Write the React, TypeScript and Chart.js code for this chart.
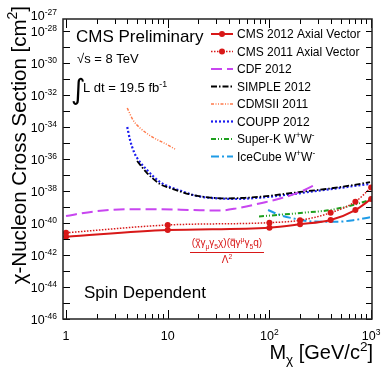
import { useEffect, useRef } from 'react';
import { Chart, registerables } from 'chart.js';

Chart.register(...registerables);

const FONT = '"Liberation Sans", Arial, Helvetica, sans-serif';

// ---- data (mass in GeV/c^2, cross section in cm^2) ----
const cms2012Mass = [1, 10, 100, 200, 400, 700, 1000];
const cms2012Sigma = [1.38e-41, 3.63e-41, 5.13e-41, 8.32e-41, 1.55e-40, 6.46e-40, 3.16e-39];

const cms2011Mass = [1, 10, 100, 200, 400, 700, 1000];
const cms2011Sigma = [2.46e-41, 7.5e-41, 1.05e-40, 1.48e-40, 4.37e-40, 2.14e-39, 1.66e-38];

const cdfMass = [1, 1.84, 4, 8.4, 17.7, 32.7, 48, 86.5, 127, 200, 294];
const cdfSigma = [2.75e-40, 5.13e-40, 7.24e-40, 7.24e-40, 6.46e-40, 6.03e-40, 8.32e-40, 1.86e-39, 3.39e-39, 8.71e-39, 2.75e-38];

const simpleMass = [5, 6.26, 8.4, 10.5, 13.2, 17.7, 26, 38.3, 57.5, 80.8, 127, 200, 360, 620, 975];
const simpleSigma = [7.5e-37, 1.33e-37, 2.74e-38, 1.54e-38, 9.33e-39, 5.62e-39, 3.89e-39, 3.47e-39, 3.76e-39, 4.37e-39, 6.03e-39, 8.71e-39, 1.33e-38, 2.19e-38, 3.63e-38];

const cdmsMass = [4, 4.56, 5.34, 6.26, 7.5, 9.4, 11.8];
const cdmsSigma = [1.55e-33, 2.75e-34, 8.71e-35, 3.89e-35, 1.91e-35, 9.33e-36, 4.22e-36];

const couppMass = [4, 4.26, 4.66, 5, 6.26, 8.4, 10.5, 13.2, 17.7, 22.2, 32.7, 48, 72, 101, 214, 462, 975];
const couppSigma = [1e-34, 1.55e-35, 2.74e-36, 1.15e-36, 2.04e-37, 3.63e-38, 1.78e-38, 1.07e-38, 5.62e-39, 4.22e-39, 3.39e-39, 3.16e-39, 3.63e-39, 4.37e-39, 7.76e-39, 1.48e-38, 2.75e-38];

const superkMass = [79, 119, 214, 394, 664, 975];
const superkSigma = [2.57e-40, 3.16e-40, 4.37e-40, 6.46e-40, 1.33e-39, 2.74e-39];

const icecubeMass = [97, 127, 171, 268, 462, 695, 975];
const icecubeSigma = [6.46e-40, 3.16e-40, 1.95e-40, 1.23e-40, 1.2e-40, 1.55e-40, 2.29e-40];

const xTickValues = [1, 10, 100, 1000];
const xTickExponents = ['', '', '2', '3'];
const xTickBases = ['1', '10', '10', '10'];
const yLabelExponents = [-27, -28, -30, -32, -34, -36, -38, -40, -42, -44, -46];

const RED = '#d81818';

type Seg = { t: string; s?: 'sup' | 'sub'; bar?: boolean };

function drawRich(ctx: CanvasRenderingContext2D, segs: Seg[], x: number, y: number, size: number, align: 'left' | 'center' | 'right', color: string, smallRatio = 0.68) {
  const small = size * smallRatio;
  const widths = segs.map((s) => {
    ctx.font = `${s.s ? small : size}px ${FONT}`;
    return ctx.measureText(s.t).width;
  });
  const total = widths.reduce((a, b) => a + b, 0);
  let cx = align === 'left' ? x : align === 'center' ? x - total / 2 : x - total;
  ctx.fillStyle = color;
  ctx.strokeStyle = color;
  ctx.textAlign = 'left';
  ctx.textBaseline = 'alphabetic';
  segs.forEach((s, i) => {
    ctx.font = `${s.s ? small : size}px ${FONT}`;
    const dy = s.s === 'sup' ? -size * 0.42 : s.s === 'sub' ? size * 0.25 : 0;
    ctx.fillText(s.t, cx, y + dy);
    if (s.bar) {
      ctx.lineWidth = 0.8;
      ctx.beginPath();
      ctx.moveTo(cx + 0.5, y - size * 0.68);
      ctx.lineTo(cx + widths[i] - 0.5, y - size * 0.68);
      ctx.stroke();
    }
    cx += widths[i];
  });
}

const legendEntries = [
  { label: [{ t: 'CMS 2012 Axial Vector' }], color: RED, dash: [], width: 2, marker: true },
  { label: [{ t: 'CMS 2011 Axial Vector' }], color: RED, dash: [1.5, 1.5], width: 1.5, marker: true },
  { label: [{ t: 'CDF 2012' }], color: '#c846f0', dash: [11, 5], width: 2, marker: false },
  { label: [{ t: 'SIMPLE 2012' }], color: '#000000', dash: [6, 2, 1.5, 2], width: 1.8, marker: false },
  { label: [{ t: 'CDMSII 2011' }], color: '#ff7a4a', dash: [3, 1.5, 1, 1.5, 1, 1.5], width: 1.5, marker: false },
  { label: [{ t: 'COUPP 2012' }], color: '#1c1cf0', dash: [2, 2], width: 2.2, marker: false },
  { label: [{ t: 'Super-K W' }, { t: '+', s: 'sup' }, { t: 'W' }, { t: '-', s: 'sup' }], color: '#1ea01e', dash: [5, 2, 1, 2, 1, 2], width: 2, marker: false },
  { label: [{ t: 'IceCube W' }, { t: '+', s: 'sup' }, { t: 'W' }, { t: '-', s: 'sup' }], color: '#1e9be6', dash: [8, 3, 2, 3], width: 2, marker: false },
] as { label: Seg[]; color: string; dash: number[]; width: number; marker: boolean }[];

const overlay = {
  id: 'overlay',
  afterDraw(chart: any) {
    const { ctx, chartArea: a, scales } = chart;
    const xs = scales.x;
    const ys = scales.y;
    ctx.save();
    ctx.setLineDash([]);
    ctx.strokeStyle = '#000';
    ctx.lineWidth = 1;
    // y ticks
    for (let e = -46; e <= -28; e++) {
      const py = Math.round(ys.getPixelForValue(Math.pow(10, e))) + 0.5;
      ctx.beginPath();
      ctx.moveTo(a.left, py);
      ctx.lineTo(a.left + 7, py);
      ctx.moveTo(a.right - 6, py);
      ctx.lineTo(a.right, py);
      ctx.stroke();
    }
    // x ticks
    for (let n = 0; n <= 3; n++) {
      for (let m = 1; m <= 9; m++) {
        const v = m * Math.pow(10, n);
        if (v < xs.min || v > xs.max) continue;
        const px = Math.round(xs.getPixelForValue(v)) + 0.5;
        const len = m === 1 ? 9 : 5;
        ctx.beginPath();
        ctx.moveTo(px, a.bottom);
        ctx.lineTo(px, a.bottom - len);
        ctx.moveTo(px, a.top);
        ctx.lineTo(px, a.top + len);
        ctx.stroke();
      }
    }
    // frame
    ctx.lineWidth = 1.5;
    ctx.strokeStyle = '#222';
    ctx.strokeRect(a.left, a.top, a.right - a.left, a.bottom - a.top);

    // y labels
    yLabelExponents.forEach((e) => {
      const py = ys.getPixelForValue(Math.pow(10, e));
      drawRich(ctx, [{ t: '10' }, { t: String(e), s: 'sup' }], 57, py + 5, 12.5, 'right', '#000');
    });
    // x labels
    xTickValues.forEach((v, i) => {
      const px = xs.getPixelForValue(v);
      const segs: Seg[] = [{ t: xTickBases[i] }];
      if (xTickExponents[i]) segs.push({ t: xTickExponents[i], s: 'sup' });
      drawRich(ctx, segs, px, 340, 12.5, 'center', '#000');
    });

    // axis titles
    drawRich(ctx, [{ t: 'M' }, { t: 'χ', s: 'sub' }, { t: ' [GeV/c' }, { t: '2', s: 'sup' }, { t: ']' }], 373, 359, 20, 'right', '#000');
    ctx.save();
    ctx.translate(26, 6);
    ctx.rotate(-Math.PI / 2);
    drawRich(ctx, [{ t: 'χ-Nucleon Cross Section [cm' }, { t: '2', s: 'sup' }, { t: ']' }], 0, 0, 20.5, 'right', '#000');
    ctx.restore();

    // annotations
    drawRich(ctx, [{ t: 'CMS Preliminary' }], 76, 42, 17, 'left', '#000');
    drawRich(ctx, [{ t: '√s = 8 TeV' }], 77, 63, 13, 'left', '#000');
    ctx.font = `28px "DejaVu Sans", sans-serif`;
    ctx.fillStyle = '#000';
    ctx.fillText('∫', 71, 99);
    drawRich(ctx, [{ t: 'L dt = 19.5 fb' }, { t: '-1', s: 'sup' }], 83, 92, 13, 'left', '#000');
    drawRich(ctx, [{ t: 'Spin Dependent' }], 84, 298, 17, 'left', '#000');

    // formula
    drawRich(ctx, [
      { t: '(' }, { t: 'χ', bar: true }, { t: 'γ' }, { t: 'μ', s: 'sub' }, { t: 'γ' }, { t: '5', s: 'sub' }, { t: 'χ)(' },
      { t: 'q', bar: true }, { t: 'γ' }, { t: 'μ', s: 'sup' }, { t: 'γ' }, { t: '5', s: 'sub' }, { t: 'q)' },
    ], 227, 246, 10, 'center', RED);
    ctx.strokeStyle = RED;
    ctx.lineWidth = 1;
    ctx.setLineDash([]);
    ctx.beginPath();
    ctx.moveTo(190, 252.5);
    ctx.lineTo(264, 252.5);
    ctx.stroke();
    drawRich(ctx, [{ t: 'Λ' }, { t: '2', s: 'sup' }], 227, 263, 10, 'center', RED);

    // legend
    legendEntries.forEach((en, i) => {
      const yy = 34 + i * 17.5;
      ctx.save();
      ctx.strokeStyle = en.color;
      ctx.lineWidth = en.width;
      ctx.setLineDash(en.dash);
      ctx.beginPath();
      ctx.moveTo(211, yy);
      ctx.lineTo(233, yy);
      ctx.stroke();
      ctx.setLineDash([]);
      if (en.marker) {
        ctx.fillStyle = en.color;
        ctx.beginPath();
        ctx.arc(222, yy, 3, 0, Math.PI * 2);
        ctx.fill();
      }
      ctx.restore();
      drawRich(ctx, en.label, 237, yy + 4.3, 12, 'left', '#000');
    });
    ctx.restore();
  },
};

function series(mass: number[], sigma: number[]) {
  return mass.map((m, i) => ({ x: m, y: sigma[i] }));
}

export default function App() {
  const ref = useRef<HTMLCanvasElement | null>(null);
  useEffect(() => {
    document.body.style.margin = '0';
    if (!ref.current) return;
    const common = { cubicInterpolationMode: 'monotone' as const, pointRadius: 0, fill: false };
    const chart = new Chart(ref.current, {
      type: 'line',
      data: {
        datasets: [
          { ...common, data: series(cms2012Mass, cms2012Sigma), borderColor: RED, backgroundColor: RED, borderWidth: 2, pointRadius: 3, pointBackgroundColor: RED, pointBorderWidth: 0 },
          { ...common, data: series(cms2011Mass, cms2011Sigma), borderColor: RED, backgroundColor: RED, borderWidth: 1.5, borderDash: [1.5, 1.5], pointRadius: 3, pointBackgroundColor: RED, pointBorderWidth: 0 },
          { ...common, data: series(cdfMass, cdfSigma), borderColor: '#c846f0', borderWidth: 2, borderDash: [11, 5] },
          { ...common, data: series(simpleMass, simpleSigma), borderColor: '#000000', borderWidth: 1.8, borderDash: [6, 2, 1.5, 2] },
          { ...common, data: series(cdmsMass, cdmsSigma), borderColor: '#ff7a4a', borderWidth: 1.5, borderDash: [3, 1.5, 1, 1.5, 1, 1.5] },
          { ...common, data: series(couppMass, couppSigma), borderColor: '#1c1cf0', borderWidth: 2.2, borderDash: [2, 2] },
          { ...common, data: series(superkMass, superkSigma), borderColor: '#1ea01e', borderWidth: 2, borderDash: [5, 2, 1, 2, 1, 2] },
          { ...common, data: series(icecubeMass, icecubeSigma), borderColor: '#1e9be6', borderWidth: 2, borderDash: [8, 3, 2, 3] },
        ],
      },
      options: {
        responsive: false,
        animation: false,
        devicePixelRatio: 1,
        layout: { padding: { left: 63, right: 10, top: 19, bottom: 48 } },
        plugins: { legend: { display: false }, tooltip: { enabled: false } },
        scales: {
          x: { type: 'logarithmic', min: 0.934, max: 1020, display: false },
          y: { type: 'logarithmic', min: 1e-46, max: Math.pow(10, -27.25), display: false },
        },
      },
      plugins: [overlay],
    });
    return () => chart.destroy();
  }, []);
  return <canvas ref={ref} width={382} height={367} style={{ display: 'block' }} />;
}
